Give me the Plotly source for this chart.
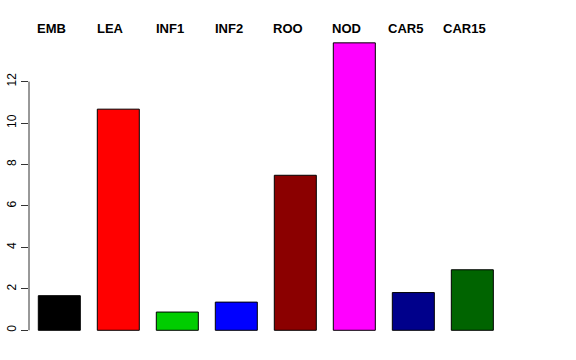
import plotly.graph_objects as go

categories = ["EMB", "LEA", "INF1", "INF2", "ROO", "NOD", "CAR5", "CAR15"]
values = [1.67, 10.67, 0.88, 1.36, 7.48, 13.87, 1.82, 2.92]
colors = ["#000000", "#FF0000", "#00CD00", "#0000FF", "#8B0000", "#FF00FF", "#00008B", "#006400"]
y_ticks = [0, 2, 4, 6, 8, 10, 12]

fig = go.Figure()
fig.add_trace(go.Bar(
    x=categories, y=values,
    marker=dict(color=colors, line=dict(color="#000000", width=1)),
    hoverinfo="x+y",
))

for c in categories:
    fig.add_annotation(x=c, y=1, xref="x", yref="paper", yanchor="bottom",
                       text="<b>%s</b>" % c, showarrow=False, xshift=-7.6, yshift=-8,
                       font=dict(family="Liberation Sans, Arial", size=13, color="#000000"))

# R-style y axis line spanning only the tick range
fig.add_shape(type="line", xref="paper", yref="y", x0=0, x1=0,
              y0=y_ticks[0], y1=y_ticks[-1], line=dict(color="#333333", width=1))

fig.update_layout(
    width=576, height=360,
    margin=dict(l=29, r=56, t=30, b=18, autoexpand=False),
    plot_bgcolor="white", paper_bgcolor="white",
    showlegend=False, bargap=0.288,
    font=dict(family="Liberation Sans, Arial", size=12, color="#000000"),
)
fig.update_xaxes(range=[-0.5136, 7.808], showticklabels=False, showline=False,
                 showgrid=False, zeroline=False, ticks="", automargin=False)
fig.update_yaxes(range=[-0.565, 14.49], tickvals=y_ticks, ticktext=[str(v) for v in y_ticks],
                 tickangle=-90, ticks="outside", ticklen=7, tickcolor="#333333",
                 showgrid=False, zeroline=False, showline=False, automargin=False,
                 tickfont=dict(family="Liberation Sans, Arial", size=12, color="#000000"))

fig.write_html("out.html", config={"displayModeBar": False},
               post_script="document.body.style.margin='0';document.body.style.overflow='hidden';")
